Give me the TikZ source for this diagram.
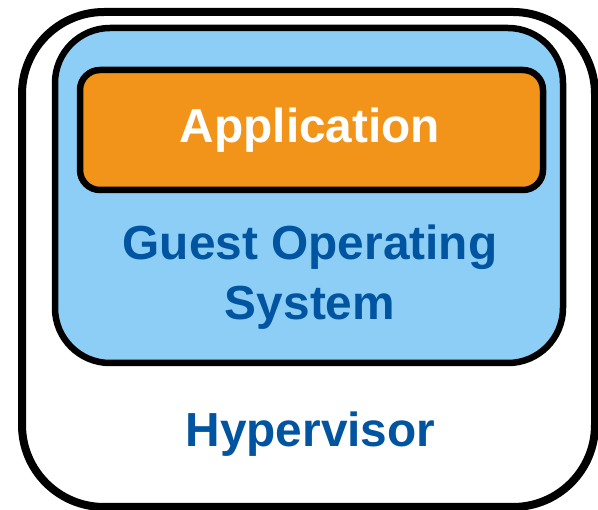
\documentclass[tikz,border=0pt]{standalone}
\usepackage{fontspec}
\setmainfont{Liberation Sans}
\definecolor{hvblue}{RGB}{0,84,160}
\definecolor{guestfill}{RGB}{141,206,247}
\definecolor{appfill}{RGB}{242,148,26}
\begin{document}
\begin{tikzpicture}[x=1pt,y=-1pt,
  layer/.style={draw=black,line join=round},
  lbl/.style={font=\fontsize{47.8}{60}\selectfont\bfseries,anchor=base,inner sep=0pt}]
\useasboundingbox (0,0) rectangle (598,510);
% hypervisor
\draw[layer,line width=8,rounded corners=82,fill=white] (22,12) rectangle (595,507);
% guest operating system
\draw[layer,line width=6.5,rounded corners=55,fill=guestfill] (55,28) rectangle (563,363);
% application
\draw[layer,line width=6.5,rounded corners=20,fill=appfill] (80,70) rectangle (543,190);
\node[lbl,text=white] (app) at (310,143) {Application};
\node[lbl,text=hvblue] (guest1) at (310,260) {Guest Operating};
\node[lbl,text=hvblue] (guest2) at (310,320) {System};
\node[lbl,text=hvblue] (hyp) at (310.5,447) {Hypervisor};
\end{tikzpicture}
\end{document}
